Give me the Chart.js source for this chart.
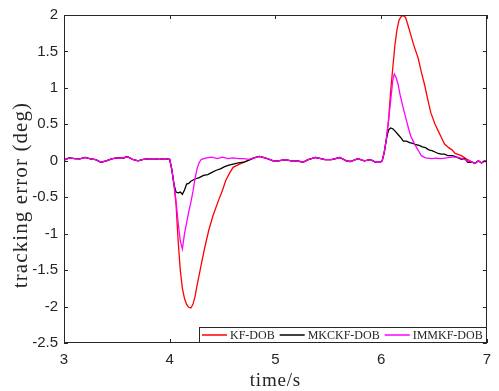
<!DOCTYPE html>
<html>
<head>
<meta charset="utf-8">
<script src="https://cdn.jsdelivr.net/npm/chart.js"></script>
<style>
  html, body { margin: 0; padding: 0; background: #fff; }
  #wrap { width: 499px; height: 391px; }
</style>
</head>
<body>
<div id="wrap"><canvas id="myChart" width="499" height="391"></canvas></div>
<script>
// series names and colours
const seriesNames = ['KF-DOB', 'MKCKF-DOB', 'IMMKF-DOB'];
const seriesColors = ['#ff0000', '#000000', '#ff00ff'];

// axis ticks and titles
const xTicks = [3, 4, 5, 6, 7];
const yTicks = [-2.5, -2, -1.5, -1, -0.5, 0, 0.5, 1, 1.5, 2];
const xTitle = 'time/s';
const yTitle = 'tracking error (deg)';

// shared baseline before the first disturbance (3.0 - 4.0 s)
const preT = [3.0, 3.05, 3.1, 3.15, 3.2, 3.25, 3.3, 3.35, 3.4, 3.45, 3.5, 3.55, 3.6, 3.65, 3.7, 3.75, 3.8, 3.85, 3.9, 3.95, 4.0];
const preV = [0.01, 0.04, 0.03, 0.025, 0.045, 0.025, 0.015, -0.02, 0.0, 0.025, 0.04, 0.035, 0.055, 0.02, 0.0, 0.02, 0.025, 0.03, 0.02, 0.03, 0.02];

// negative dip (4.0 - 4.85 s), one per series
const kfDipT = [4.02, 4.04, 4.06, 4.08, 4.1, 4.12, 4.14, 4.16, 4.18, 4.2, 4.22, 4.24, 4.26, 4.28, 4.3, 4.33, 4.37, 4.41, 4.46, 4.5, 4.53, 4.57, 4.6, 4.66, 4.72, 4.79];
const kfDipV = [-0.12, -0.32, -0.6, -1.1, -1.5, -1.75, -1.89, -1.97, -2.01, -2.02, -1.97, -1.86, -1.7, -1.56, -1.41, -1.2, -0.95, -0.75, -0.55, -0.4, -0.27, -0.16, -0.09, -0.045, -0.01, 0.04];
const mkDipT = [4.02, 4.04, 4.06, 4.08, 4.1, 4.12, 4.14, 4.16, 4.18, 4.2, 4.24, 4.28, 4.32, 4.36, 4.4, 4.44, 4.48, 4.52, 4.56, 4.6, 4.65, 4.7, 4.75, 4.8];
const mkDipV = [-0.12, -0.32, -0.43, -0.44, -0.43, -0.46, -0.4, -0.32, -0.31, -0.28, -0.25, -0.23, -0.2, -0.19, -0.16, -0.13, -0.11, -0.08, -0.06, -0.045, -0.03, -0.02, 0.01, 0.04];
const immDipT = [4.02, 4.04, 4.06, 4.08, 4.1, 4.12, 4.14, 4.16, 4.18, 4.2, 4.22, 4.24, 4.26, 4.28, 4.3, 4.35, 4.4, 4.45, 4.5, 4.55, 4.6, 4.65, 4.7, 4.75, 4.8];
const immDipV = [-0.12, -0.32, -0.55, -0.85, -1.1, -1.21, -1.0, -0.85, -0.7, -0.57, -0.42, -0.24, -0.1, -0.02, 0.02, 0.04, 0.05, 0.03, 0.05, 0.03, 0.04, 0.03, 0.03, 0.02, 0.04];

// shared baseline between disturbances (4.85 - 6.0 s)
const midT = [4.85, 4.9, 4.93, 4.98, 5.03, 5.09, 5.15, 5.21, 5.26, 5.31, 5.38, 5.43, 5.47, 5.53, 5.61, 5.67, 5.71, 5.78, 5.84, 5.9, 5.95, 5.99];
const midV = [0.06, 0.04, 0.025, 0.0, 0.0, 0.015, 0.0, 0.0, -0.02, 0.015, 0.045, 0.03, 0.015, 0.015, 0.045, 0.0, -0.01, 0.03, 0.0, 0.015, -0.02, -0.02];

// positive peak (6.0 - 6.85 s), one per series
const kfPeakT = [6.01, 6.03, 6.05, 6.07, 6.09, 6.11, 6.13, 6.15, 6.17, 6.19, 6.21, 6.23, 6.25, 6.28, 6.31, 6.35, 6.38, 6.41, 6.44, 6.47, 6.51, 6.54, 6.57, 6.6, 6.64, 6.67, 6.7, 6.76, 6.8, 6.84];
const kfPeakV = [0.0, 0.12, 0.3, 0.55, 0.95, 1.27, 1.58, 1.8, 1.93, 1.98, 1.99, 1.97, 1.88, 1.73, 1.58, 1.41, 1.22, 1.05, 0.85, 0.66, 0.5, 0.41, 0.32, 0.23, 0.18, 0.15, 0.1, 0.07, 0.03, 0.0];
const mkPeakT = [6.01, 6.03, 6.05, 6.07, 6.09, 6.11, 6.13, 6.16, 6.19, 6.21, 6.24, 6.27, 6.3, 6.33, 6.36, 6.39, 6.42, 6.45, 6.48, 6.51, 6.54, 6.57, 6.6, 6.63, 6.67, 6.7, 6.73, 6.76, 6.79, 6.82];
const mkPeakV = [0.0, 0.12, 0.3, 0.42, 0.45, 0.44, 0.41, 0.36, 0.31, 0.27, 0.27, 0.25, 0.24, 0.22, 0.21, 0.19, 0.18, 0.15, 0.14, 0.12, 0.1, 0.09, 0.09, 0.07, 0.07, 0.06, 0.04, 0.02, 0.03, -0.02];
const immPeakT = [6.01, 6.03, 6.05, 6.07, 6.09, 6.11, 6.125, 6.14, 6.16, 6.18, 6.2, 6.22, 6.24, 6.26, 6.28, 6.3, 6.32, 6.34, 6.36, 6.38, 6.42, 6.48, 6.52, 6.57, 6.62, 6.67, 6.72, 6.77, 6.82];
const immPeakV = [0.0, 0.12, 0.3, 0.55, 0.82, 1.1, 1.19, 1.15, 1.05, 0.9, 0.78, 0.66, 0.55, 0.44, 0.34, 0.28, 0.22, 0.17, 0.12, 0.07, 0.04, 0.03, 0.035, 0.03, 0.04, 0.05, 0.05, 0.03, 0.0];

// shared tail (6.85 - 7.0 s)
const postT = [6.86, 6.89, 6.92, 6.95, 6.98, 7.0];
const postV = [-0.02, -0.035, 0.0, -0.03, 0.0, -0.02];

function toPoints(parts) {
    const pts = [];
    parts.forEach(([ts, vs]) => ts.forEach((t, i) => pts.push({ x: t, y: vs[i] })));
    return pts;
}

const kfData = toPoints([[preT, preV], [kfDipT, kfDipV], [midT, midV], [kfPeakT, kfPeakV], [postT, postV]]);
const mkData = toPoints([[preT, preV], [mkDipT, mkDipV], [midT, midV], [mkPeakT, mkPeakV], [postT, postV]]);
const immData = toPoints([[preT, preV], [immDipT, immDipV], [midT, midV], [immPeakT, immPeakV], [postT, postV]]);

const axisColor = '#262626';
const serif = '"Liberation Serif", "Times New Roman", serif';
const sans = '"Liberation Sans", Arial, sans-serif';

// box, inward ticks, axis titles and the in-plot legend, MATLAB style
const framePlugin = {
    id: 'frame',
    afterDatasetsDraw(chart) {
        const { ctx, chartArea: a, scales } = chart;
        ctx.save();
        ctx.strokeStyle = axisColor;
        ctx.lineWidth = 1;
        ctx.beginPath();
        ctx.rect(Math.round(a.left) + 0.5, Math.round(a.top) + 0.5, Math.round(a.right - a.left) - 1, Math.round(a.bottom - a.top) - 1);
        const tl = 4;
        xTicks.forEach(v => {
            const x = Math.round(scales.x.getPixelForValue(v)) + 0.5;
            ctx.moveTo(x, a.bottom); ctx.lineTo(x, a.bottom - tl);
            ctx.moveTo(x, a.top); ctx.lineTo(x, a.top + tl);
        });
        yTicks.forEach(v => {
            const y = Math.round(scales.y.getPixelForValue(v)) + 0.5;
            ctx.moveTo(a.left, y); ctx.lineTo(a.left + tl, y);
            ctx.moveTo(a.right, y); ctx.lineTo(a.right - tl, y);
        });
        ctx.stroke();

        // axis titles (LaTeX-like serif)
        ctx.fillStyle = axisColor;
        ctx.textAlign = 'center';
        ctx.textBaseline = 'alphabetic';
        ctx.font = '19px ' + serif;
        ctx.letterSpacing = '0.8px';
        ctx.fillText(xTitle, (a.left + a.right) / 2, a.bottom + 43);
        ctx.save();
        ctx.translate(27, (a.top + a.bottom) / 2 + 16);
        ctx.rotate(-Math.PI / 2);
        ctx.font = '21px ' + serif;
        ctx.letterSpacing = '1.1px';
        ctx.fillText(yTitle, 0, 0);
        ctx.restore();
        ctx.letterSpacing = '0px';
        ctx.textAlign = 'left';

        // legend
        ctx.font = '12px ' + serif;
        const pad = 3, lineLen = 25, gap = 3, itemGap = 5, h = 16;
        let w = pad;
        seriesNames.forEach((n, i) => {
            w += lineLen + gap + ctx.measureText(n).width + (i < seriesNames.length - 1 ? itemGap : pad);
        });
        w = Math.round(w);
        const bx = Math.round(a.right - 1 - w), by = Math.round(a.bottom - h);
        ctx.fillStyle = '#fff';
        ctx.fillRect(bx, by, w, h);
        ctx.strokeStyle = axisColor;
        ctx.strokeRect(bx + 0.5, by + 0.5, w, h - 1);
        let x = bx + pad;
        const cy = by + h / 2;
        ctx.textBaseline = 'middle';
        seriesNames.forEach((n, i) => {
            ctx.strokeStyle = seriesColors[i];
            ctx.lineWidth = 1.5;
            ctx.beginPath();
            ctx.moveTo(x, cy); ctx.lineTo(x + lineLen, cy);
            ctx.stroke();
            x += lineLen + gap;
            ctx.fillStyle = axisColor;
            ctx.fillText(n, x, cy + 0.5);
            x += ctx.measureText(n).width + itemGap;
        });
        ctx.restore();
    }
};

const ctx = document.getElementById('myChart').getContext('2d');
const myChart = new Chart(ctx, {
    type: 'line',
    data: {
        datasets: [
            { label: seriesNames[0], data: kfData, borderColor: seriesColors[0], order: 3 },
            { label: seriesNames[1], data: mkData, borderColor: seriesColors[1], order: 2 },
            { label: seriesNames[2], data: immData, borderColor: seriesColors[2], order: 1 }
        ]
    },
    options: {
        responsive: false,
        animation: false,
        events: [],
        layout: { padding: { top: 13, right: 9, left: 0, bottom: 0 } },
        elements: {
            point: { radius: 0 },
            line: { borderWidth: 1.3, tension: 0 }
        },
        plugins: {
            legend: { display: false },
            tooltip: { enabled: false }
        },
        scales: {
            x: {
                type: 'linear',
                min: 3, max: 7,
                afterBuildTicks: s => { s.ticks = xTicks.map(v => ({ value: v })); },
                afterFit: s => { s.height = 48; },
                grid: { display: false, drawTicks: false },
                border: { display: false },
                ticks: { color: axisColor, font: { family: sans, size: 15 }, padding: 8, maxRotation: 0, callback: v => String(v) }
            },
            y: {
                type: 'linear',
                min: -2.5, max: 2,
                afterBuildTicks: s => { s.ticks = yTicks.map(v => ({ value: v })); },
                afterFit: s => { s.width = 64; },
                grid: { display: false, drawTicks: false },
                border: { display: false },
                ticks: { color: axisColor, font: { family: sans, size: 15 }, padding: 6, callback: v => String(v) }
            }
        }
    },
    plugins: [framePlugin]
});
</script>
</body>
</html>
